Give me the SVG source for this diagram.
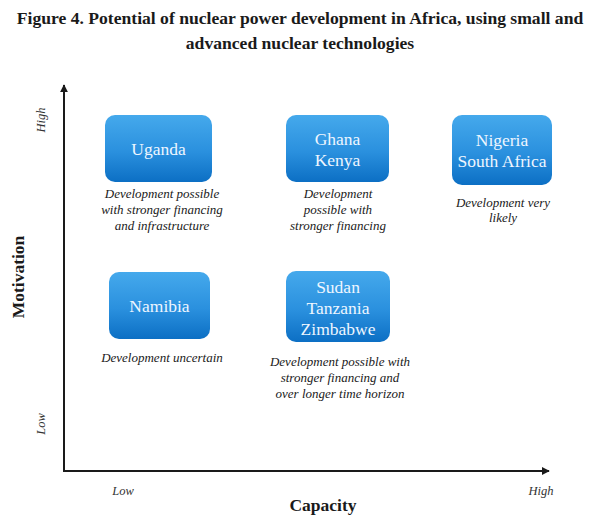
<svg xmlns="http://www.w3.org/2000/svg" width="600" height="522" viewBox="0 0 600 522">
<defs>
<linearGradient id="bx" x1="0" y1="0" x2="0" y2="1">
<stop offset="0" stop-color="#45a9ec"/>
<stop offset="0.55" stop-color="#2a90de"/>
<stop offset="1" stop-color="#0c6fc4"/>
</linearGradient>
<marker id="ah" viewBox="0 0 10 10" refX="9" refY="5" markerWidth="8" markerHeight="8" markerUnits="userSpaceOnUse" orient="auto">
<path d="M0,0 L10,5 L0,10 z" fill="#1a1a1a"/>
</marker>
</defs>
<style>
.title{font-family:"Liberation Serif",serif;font-weight:bold;font-size:17.6px;fill:#1a1a1a;text-anchor:middle}
.box{fill:url(#bx)}
.bt{font-family:"Liberation Serif",serif;font-size:17.5px;fill:#eef6ff;text-anchor:middle}
.cap{font-family:"Liberation Serif",serif;font-style:italic;font-size:13px;fill:#1a1a1a;text-anchor:middle}
.ax{font-family:"Liberation Serif",serif;font-style:italic;font-size:12.5px;fill:#333;text-anchor:middle}
.axt{font-family:"Liberation Serif",serif;font-weight:bold;font-size:17.5px;fill:#1a1a1a;text-anchor:middle}
.line{stroke:#1a1a1a;stroke-width:2;fill:none}
</style>
<rect width="600" height="522" fill="#ffffff"/>
<text class="title" x="300" y="24">Figure 4. Potential of nuclear power development in Africa, using small and</text>
<text class="title" x="300" y="49">advanced nuclear technologies</text>

<g id="connectors">
<line class="line" x1="64" y1="471" x2="64" y2="85" marker-end="url(#ah)"/>
<line class="line" x1="63" y1="471" x2="549" y2="471" marker-end="url(#ah)"/>
</g>

<g id="axis-labels">
<text class="ax" transform="translate(45,120) rotate(-90)">High</text>
<text class="ax" transform="translate(45,424) rotate(-90)">Low</text>
<text class="axt" transform="translate(24,277) rotate(-90)">Motivation</text>
<text class="ax" x="123" y="495">Low</text>
<text class="ax" x="541" y="495">High</text>
<text class="axt" x="323" y="511">Capacity</text>
</g>

<g id="uganda">
<rect class="box" x="105" y="115" width="107" height="67" rx="10"/>
<text class="bt" x="158.5" y="155">Uganda</text>
<text class="cap" x="162" y="198">Development possible</text>
<text class="cap" x="162" y="214">with stronger financing</text>
<text class="cap" x="162" y="230">and infrastructure</text>
</g>

<g id="ghana-kenya">
<rect class="box" x="286" y="115" width="103" height="67" rx="10"/>
<text class="bt" x="337.5" y="145">Ghana</text>
<text class="bt" x="337.5" y="166">Kenya</text>
<text class="cap" x="338" y="198">Development</text>
<text class="cap" x="338" y="214">possible with</text>
<text class="cap" x="338" y="230">stronger financing</text>
</g>

<g id="nigeria-south-africa">
<rect class="box" x="452" y="115" width="100" height="70" rx="10"/>
<text class="bt" x="502" y="146">Nigeria</text>
<text class="bt" x="502" y="167">South Africa</text>
<text class="cap" x="503" y="207">Development very</text>
<text class="cap" x="503" y="222">likely</text>
</g>

<g id="namibia">
<rect class="box" x="109" y="272" width="101" height="67" rx="10"/>
<text class="bt" x="159.5" y="312">Namibia</text>
<text class="cap" x="162" y="362">Development uncertain</text>
</g>

<g id="sudan-tanzania-zimbabwe">
<rect class="box" x="286" y="271" width="104" height="71" rx="10"/>
<text class="bt" x="338" y="293">Sudan</text>
<text class="bt" x="338" y="314">Tanzania</text>
<text class="bt" x="338" y="335">Zimbabwe</text>
<text class="cap" x="340" y="366">Development possible with</text>
<text class="cap" x="340" y="382">stronger financing and</text>
<text class="cap" x="340" y="398">over longer time horizon</text>
</g>
</svg>
